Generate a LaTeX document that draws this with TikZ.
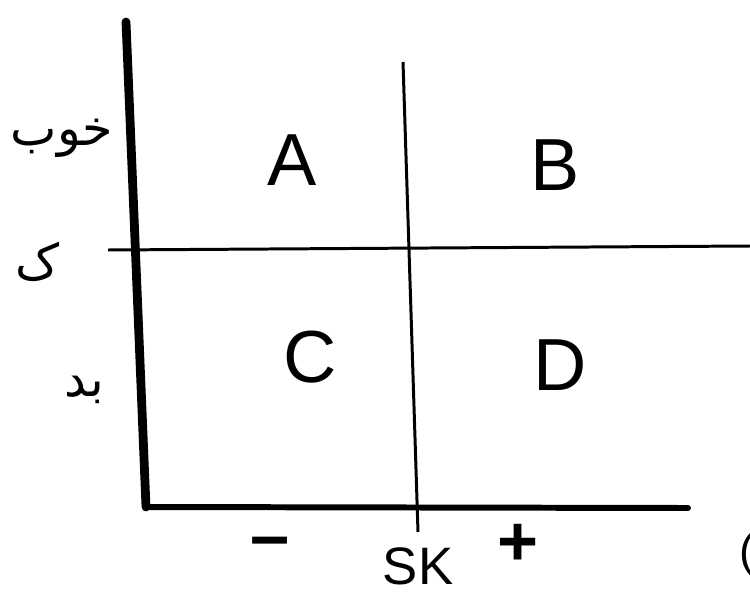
\documentclass[tikz,border=0pt]{standalone}
\usepackage{fontspec}
\setsansfont{Liberation Sans}
\newfontfamily\arabicfont[Script=Arabic]{DejaVu Sans}
\TeXXeTstate=1
\usetikzlibrary{positioning}
\tikzset{
    axisline/.style={line width=5pt, line cap=round},
    baseline axis/.style={line width=3.4pt, line cap=round},
    divider/.style={line width=1.7pt},
    quad/.style={font=\sffamily\fontsize{42}{46}\selectfont, inner sep=0pt},
    sidelbl/.style={font=\arabicfont\fontsize{28}{32}\selectfont, inner sep=0pt},
    signlbl/.style={font=\sffamily\bfseries\fontsize{40}{44}\selectfont, inner sep=0pt}
}

\begin{document}
\begin{tikzpicture}[x=0.02cm, y=-0.02cm]
\useasboundingbox (0,0) rectangle (750,598);

% axes
\coordinate (ytop) at (126,22);
\coordinate (origin) at (146,507);
\coordinate (xend) at (688,508);
\draw[axisline] (ytop) -- (origin);
\draw[baseline axis] (origin) -- (xend);

% quadrant dividers
\coordinate (hleft) at (108,250);
\coordinate (hright) at (750,246);
\coordinate (vtop) at (403,62);
\coordinate (vbot) at (418,532);
\draw[divider] (hleft) -- (hright);
\draw[divider] (vtop) -- (vbot);

% quadrants
\node[quad] (qa) at (292,160) {A};
\node[quad] (qb) at (555,165) {B};
\node[quad] (qc) at (310,357) {C};
\node[quad] (qd) at (560,365) {D};

% vertical axis labels
\node[sidelbl] (good) at (62,138) {\beginR خوب\endR};
\node[sidelbl] (mid) at (38,262) {\beginR ک\endR};
\node[sidelbl] (bad) at (84,390) {\beginR بد\endR};

% horizontal axis labels
\node[signlbl] (minus) at (270,548) {–};
\node[font=\sffamily\fontsize{30}{34}\selectfont, inner sep=0pt] (sk) at (418,566) {SK};
\node[signlbl] (plus) at (518,545) {+};
\node[font=\sffamily\fontsize{26}{30}\selectfont, inner sep=0pt, anchor=west] (paren) at (739,555) {(};
\end{tikzpicture}
\end{document}
